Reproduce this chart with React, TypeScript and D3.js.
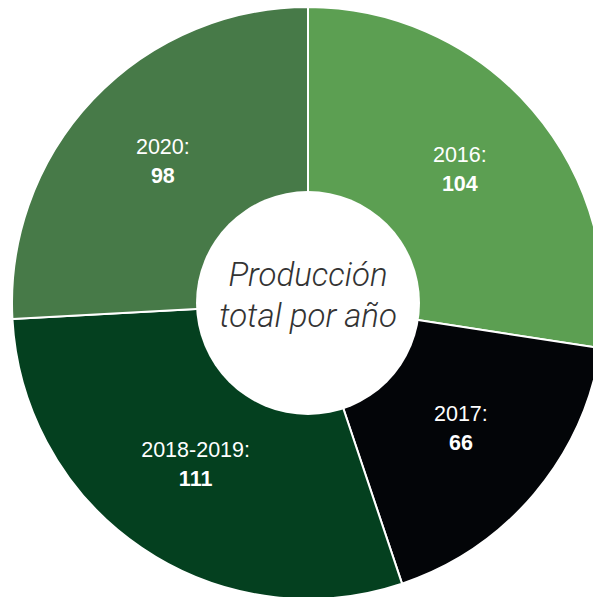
import React from "react";
import * as d3 from "d3";

const categories = ["2016", "2017", "2018-2019", "2020"];
const values = [104, 66, 111, 98];
const colors = ["#5c9f52", "#030508", "#04401f", "#477a48"];
const centerLines = ["Producción", "total por año"];

const W = 593;
const H = 597;
const cx = 308;
const cy = 303;
const outerR = 296;
const innerR = 112;
const labelR = 200;

export default function App() {
  const data = categories.map((c, i) => ({ cat: c, value: values[i], color: colors[i] }));
  const pie = d3.pie<any>().value((d: any) => d.value).sort(null);
  const arcs = pie(data);
  const arc = d3.arc<any>().innerRadius(0).outerRadius(outerR);
  const labelArc = d3.arc<any>().innerRadius(labelR).outerRadius(labelR);
  return (
    <svg
      width={W}
      height={H}
      style={{ position: "absolute", left: 0, top: 0, background: "#fff" }}
    >
      <g transform={`translate(${cx},${cy})`}>
        {arcs.map((a, i) => (
          <path key={i} d={arc(a) as string} fill={a.data.color} stroke="#fff" strokeWidth={2} />
        ))}
        {arcs.map((a, i) => {
          const [x, y] = labelArc.centroid(a);
          return (
            <text
              key={"l" + i}
              x={x}
              y={y}
              textAnchor="middle"
              fill="#fff"
              fontFamily="'Liberation Sans', Arial, sans-serif"
              fontSize={21.5}
            >
              <tspan x={x} dy={-11}>{a.data.cat + ":"}</tspan>
              <tspan x={x} dy={29} fontWeight="bold">{a.data.value}</tspan>
            </text>
          );
        })}
        <circle r={innerR} fill="#fff" />
        <text
          textAnchor="middle"
          fill="#333"
          fontFamily="Roboto, 'Liberation Sans', sans-serif"
          fontWeight={300}
          fontStyle="italic"
          fontSize={33}
        >
          <tspan x={0} y={-17}>{centerLines[0]}</tspan>
          <tspan x={0} y={24}>{centerLines[1]}</tspan>
        </text>
      </g>
    </svg>
  );
}
